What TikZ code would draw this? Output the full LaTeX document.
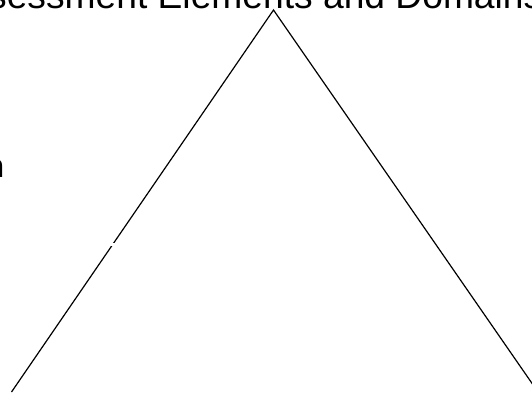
\documentclass[tikz,border=0pt]{standalone}
\usepackage{fontspec}
\setmainfont{Liberation Sans}
\tikzset{
  edge/.style={draw=black, line width=1.2pt, line join=miter},
  titletext/.style={inner sep=0pt, font=\fontsize{37.2}{44}\selectfont},
  sidetext/.style={inner sep=0pt, font=\bfseries\fontsize{33}{40}\selectfont}
}
\begin{document}
\begin{tikzpicture}[x=1pt,y=-1pt]
\useasboundingbox (0,0) rectangle (532,392);
\clip (0,0) rectangle (532,392);
\fill[white] (0,0) rectangle (532,392);
\node[titletext, anchor=base west] (title) at (-12,8.5) {sessment Elements and Domains};
\node[sidetext, anchor=base east] (side) at (4.5,177) {n};
\coordinate (apex) at (273.5,10);
\coordinate (bl) at (11.5,392);
\coordinate (br) at (538,392);
\draw[edge] (bl) -- (apex) -- (br);
\fill[white] (108,242.6) rectangle (119,246.4);
\end{tikzpicture}
\end{document}
